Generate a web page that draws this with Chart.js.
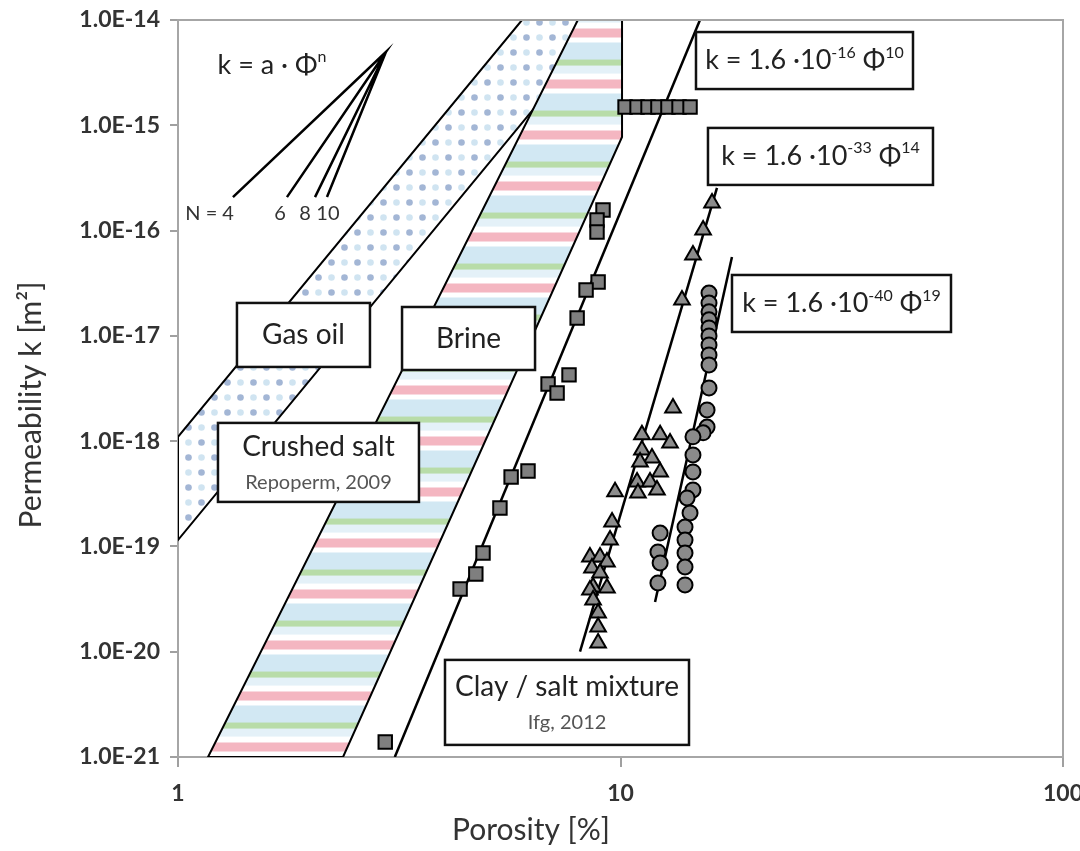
<!DOCTYPE html>
<html>
<head>
<meta charset="utf-8">
<script src="https://cdn.jsdelivr.net/npm/chart.js@4/dist/chart.umd.min.js"></script>
<style>
  html, body { margin: 0; padding: 0; background: #fff; }
</style>
</head>
<body>
<canvas id="chart" width="1080" height="851"></canvas>
<script>
'use strict'

// axis ticks
const xTicks = [1, 10, 100];
const yTicks = [1e-21, 1e-20, 1e-19, 1e-18, 1e-17, 1e-16, 1e-15, 1e-14];

// measured points (porosity %, permeability m2)
const squarePhi = [10.24, 10.90, 11.54, 12.15, 12.80, 13.56, 14.36,
  9.13, 8.85, 8.85, 8.90, 8.36, 7.98, 7.65, 6.86, 7.19,
  6.18, 5.66, 5.34, 4.89, 4.71, 4.34, 2.94];
const squareK = [1.49e-15, 1.49e-15, 1.49e-15, 1.49e-15, 1.49e-15, 1.49e-15, 1.49e-15,
  1.57e-16, 1.26e-16, 9.7e-17, 3.25e-17, 2.73e-17, 1.48e-17, 4.26e-18, 3.49e-18, 2.87e-18,
  5.21e-19, 4.57e-19, 2.32e-19, 8.67e-20, 5.48e-20, 3.94e-20, 1.39e-21];

const trianglePhi = [16.10, 15.37, 14.58, 13.77, 13.14, 11.18, 12.29, 12.94, 11.18, 11.78,
  11.07, 12.29, 10.90, 11.66, 9.72, 12.09, 10.95, 9.57, 9.47, 8.53, 8.99, 9.32, 8.62,
  8.99, 8.67, 9.32, 8.53, 8.67, 8.90, 8.90, 8.90];
const triangleK = [1.83e-16, 1.01e-16, 5.86e-17, 2.19e-17, 2.07e-18, 1.15e-18, 1.15e-18, 9.6e-19, 8.24e-19, 6.92e-19,
  6.34e-19, 5.09e-19, 4.1e-19, 4.1e-19, 3.3e-19, 3.44e-19, 3.22e-19, 1.71e-19, 1.15e-19, 7.94e-20, 7.94e-20, 7.13e-20, 6.25e-20,
  5.6e-20, 4.12e-20, 4.03e-20, 3.86e-20, 3.1e-20, 2.33e-20, 1.72e-20, 1.21e-20];

const circlePhi = [15.85, 15.85, 15.85, 15.85, 15.85, 15.85, 15.85, 15.85, 15.85, 15.85, 15.69, 15.69,
  15.37, 14.58, 14.58, 14.58, 14.58, 14.14, 14.36, 13.99, 13.99, 13.99, 13.99, 13.99,
  12.29, 12.15, 12.29, 12.15];
const circleK = [2.55e-17, 2.05e-17, 1.69e-17, 1.42e-17, 1.19e-17, 9.98e-18, 8.2e-18, 6.59e-18, 5.3e-18, 3.2e-18, 1.98e-18, 1.36e-18,
  1.2e-18, 1.1e-18, 7.4e-19, 5.1e-19, 3.44e-19, 2.89e-19, 2.08e-19, 1.53e-19, 1.15e-19, 8.67e-20, 6.38e-20, 4.31e-20,
  1.34e-19, 8.87e-20, 6.97e-20, 4.5e-20];

// bands (closed outlines)
const gasOilPhi = [5.99, 9.32, 1.0, 1.0, 5.99];
const gasOilK = [1e-14, 1e-14, 1.15e-19, 1.1e-18, 1e-14];
const brinePhi = [8.01, 10.08, 10.08, 2.36, 1.169, 8.01];
const brineK = [1e-14, 1e-14, 7.74e-16, 1e-21, 1e-21, 1e-14];

// fitted power laws
const fit10Phi = [3.09, 15.12];
const fit10K = [1e-21, 1e-14];
const fit14Phi = [8.10, 16.52];
const fit14K = [1e-20, 2.54e-16];
const fit19Phi = [11.97, 17.86];
const fit19K = [2.97e-20, 5.61e-17];

// slope fan k = a * phi^n
const fanOriginPhi = 2.95;
const fanOriginK = 4.97e-15;
const fanEndPhi = [1.331, 1.763, 2.04, 2.171];
const fanEndK = 2.08e-16;
const fanLabels = ['N = 4', '6', '8', '10'];

const pts = (xs, ys) => xs.map((x, i) => ({x: x, y: ys[i]}));

const ctx = document.getElementById('chart');
const g = ctx.getContext('2d');

function dotPattern() {
  const c = document.createElement('canvas');
  c.width = 26; c.height = 30;
  const p = c.getContext('2d');
  p.fillStyle = '#ffffff';
  p.fillRect(0, 0, 26, 30);
  const dot = (x, y, col) => { p.fillStyle = col; p.beginPath(); p.arc(x, y, 3.3, 0, Math.PI * 2); p.fill(); };
  dot(6.5, 7.5, '#a3b6d5');
  dot(19.5, 7.5, '#d0e4f1');
  dot(6.5, 22.5, '#d0e4f1');
  dot(19.5, 22.5, '#a3b6d5');
  return g.createPattern(c, 'repeat');
}

function stripePattern() {
  const c = document.createElement('canvas');
  c.width = 8; c.height = 51;
  const p = c.getContext('2d');
  const bands = [[0, 9, '#f4b6c1'], [9, 14, '#ffffff'], [14, 31, '#d2e8f3'], [31, 37, '#b8dca8'],
    [37, 45, '#e4f1f8'], [45, 51, '#ffffff']];
  bands.forEach(b => { p.fillStyle = b[2]; p.fillRect(0, b[0], 8, b[1] - b[0]); });
  const pat = g.createPattern(c, 'repeat');
  pat.setTransform(new DOMMatrix().translate(0, 28.5));
  return pat;
}

const fanData = [];
fanEndPhi.forEach((p, i) => {
  if (i) fanData.push({x: fanOriginPhi, y: fanOriginK});
  fanData.push({x: p, y: fanEndK});
});

const boxes = [
  {phi: 1.921, k: 1.02e-17, w: 133, h: 64, lines: [{parts: [['Gas oil', 0]], size: 28, dy: 0}]},
  {phi: 4.535, k: 9.44e-18, w: 133, h: 63, lines: [{parts: [['Brine', 0]], size: 28, dy: 0}]},
  {phi: 2.077, k: 6.28e-19, w: 201, h: 79, lines: [{parts: [['Crushed salt', 0]], size: 28, dy: -15},
    {parts: [['Repoperm, 2009', 0]], size: 20, dy: 20, color: '#555'}]},
  {phi: 7.57, k: 3.3e-21, w: 244, h: 85, lines: [{parts: [['Clay / salt mixture', 0]], size: 28, dy: -15},
    {parts: [['Ifg, 2012', 0]], size: 20, dy: 20, color: '#555'}]},
  {phi: 26.05, k: 4.12e-15, w: 217, h: 57, lines: [{parts: [['k = 1.6 ·10', 0], ['-16', 1], [' Φ', 0], ['10', 1]], size: 27, dy: 0}]},
  {phi: 28.31, k: 5.06e-16, w: 225, h: 57, lines: [{parts: [['k = 1.6 ·10', 0], ['-33', 1], [' Φ', 0], ['14', 1]], size: 27, dy: 0}]},
  {phi: 31.58, k: 2.03e-17, w: 219, h: 57, lines: [{parts: [['k = 1.6 ·10', 0], ['-40', 1], [' Φ', 0], ['19', 1]], size: 27, dy: 0}]}
];

function drawParts(c, parts, size, cx, cy, color) {
  const sup = Math.round(size * 0.6);
  let total = 0;
  parts.forEach(p => {
    c.font = (p[1] ? sup : size) + 'px Lato';
    total += c.measureText(p[0]).width;
  });
  let x = cx - total / 2;
  c.fillStyle = color || '#222';
  c.textAlign = 'left';
  c.textBaseline = 'middle';
  parts.forEach(p => {
    c.font = (p[1] ? sup : size) + 'px Lato';
    c.fillText(p[0], x, p[1] ? cy - size * 0.3 : cy);
    x += c.measureText(p[0]).width;
  });
}

const annotations = {
  id: 'annotations',
  afterDatasetsDraw(chart) {
    const c = chart.ctx;
    const xs = chart.scales.x, ys = chart.scales.y;
    const a = chart.chartArea;
    c.save();
    // plot frame top / right
    c.strokeStyle = '#a6a6a6';
    c.lineWidth = 2;
    c.beginPath();
    c.moveTo(a.left, a.top); c.lineTo(a.right, a.top); c.lineTo(a.right, a.bottom);
    c.stroke();

    boxes.forEach(b => {
      const cx = xs.getPixelForValue(b.phi), cy = ys.getPixelForValue(b.k);
      c.fillStyle = '#fff';
      c.strokeStyle = '#111';
      c.lineWidth = 2.5;
      c.fillRect(cx - b.w / 2, cy - b.h / 2, b.w, b.h);
      c.strokeRect(cx - b.w / 2, cy - b.h / 2, b.w, b.h);
      b.lines.forEach(l => drawParts(c, l.parts, l.size, cx, cy + l.dy, l.color));
    });

    // fan formula and N labels
    drawParts(c, [['k = a · Φ', 0], ['n', 1]], 27, xs.getPixelForValue(1.631), ys.getPixelForValue(3.74e-15), '#222');
    const ly = ys.getPixelForValue(fanEndK) + 16;
    c.font = '20px Lato';
    c.fillStyle = '#333';
    c.textBaseline = 'middle';
    fanLabels.forEach((t, i) => {
      const px = xs.getPixelForValue(fanEndPhi[i]);
      if (i === 0) { c.textAlign = 'right'; c.fillText(t, px + 1, ly); }
      else { c.textAlign = 'center'; c.fillText(t, px + [0, -7, -10, 1][i], ly); }
    });

    // axis titles
    c.fillStyle = '#333';
    c.font = '30px Lato';
    c.textAlign = 'center';
    c.textBaseline = 'middle';
    c.fillText('Porosity [%]', 531, 830);
    c.translate(31, 405);
    c.rotate(-Math.PI / 2);
    c.fillText('Permeability k [m²]', 0, 0);
    c.restore();
  }
};

const lineSet = (data, order) => ({
  data: data, showLine: true, pointRadius: 0, borderColor: '#000', borderWidth: 2.5,
  fill: false, tension: 0, order: order
});

new Chart(ctx, {
  type: 'scatter',
  data: {
    datasets: [
      {label: 'squares', data: pts(squarePhi, squareK), pointStyle: 'rect', pointRadius: 9.5,
        backgroundColor: '#7f7f7f', borderColor: '#000', borderWidth: 2, order: 0},
      {label: 'triangles', data: pts(trianglePhi, triangleK), pointStyle: 'triangle', pointRadius: 9,
        backgroundColor: '#8c8c8c', borderColor: '#000', borderWidth: 2, order: 1},
      {label: 'circles', data: pts(circlePhi, circleK), pointStyle: 'circle', pointRadius: 7.5,
        backgroundColor: '#8a8a8a', borderColor: '#000', borderWidth: 2, order: 2},
      lineSet(pts(fit10Phi, fit10K), 3),
      lineSet(pts(fit14Phi, fit14K), 3),
      lineSet(pts(fit19Phi, fit19K), 3),
      lineSet(fanData, 4),
      {label: 'brine', data: pts(brinePhi, brineK), showLine: true, pointRadius: 0, borderColor: '#000',
        borderWidth: 2, fill: 'shape', backgroundColor: stripePattern(), tension: 0, order: 5},
      {label: 'gas oil', data: pts(gasOilPhi, gasOilK), showLine: true, pointRadius: 0, borderColor: '#000',
        borderWidth: 2, fill: 'shape', backgroundColor: dotPattern(), tension: 0, order: 6}
    ]
  },
  options: {
    responsive: false,
    devicePixelRatio: 1,
    animation: false,
    layout: {padding: {left: 0, top: 20, right: 17, bottom: 0}},
    scales: {
      x: {
        type: 'logarithmic', min: 1, max: 100,
        afterBuildTicks: s => { s.ticks = xTicks.map(v => ({value: v})); },
        afterFit: s => { s.height = 94; s.paddingLeft = 0; s.paddingRight = 0; },
        grid: {drawOnChartArea: false, tickLength: 10, color: '#a0a0a0', lineWidth: 2},
        border: {color: '#a6a6a6', width: 2},
        ticks: {callback: v => String(v), font: {family: 'Lato', size: 23, weight: 'bold'}, color: '#333',
          padding: 13, maxRotation: 0, autoSkip: false}
      },
      y: {
        type: 'logarithmic', min: 1e-21, max: 1e-14,
        afterBuildTicks: s => { s.ticks = yTicks.map(v => ({value: v})); },
        afterFit: s => { s.width = 178; s.paddingTop = 0; s.paddingBottom = 0; },
        grid: {drawOnChartArea: false, tickLength: 8, color: '#a0a0a0', lineWidth: 2},
        border: {color: '#a6a6a6', width: 2},
        ticks: {callback: v => Number(v).toExponential(1).toUpperCase(),
          font: {family: 'Lato', size: 23, weight: 'bold'}, color: '#333', padding: 10, autoSkip: false}
      }
    },
    plugins: {
      legend: {display: false},
      tooltip: {enabled: false}
    }
  },
  plugins: [annotations]
});
</script>
</body>
</html>
